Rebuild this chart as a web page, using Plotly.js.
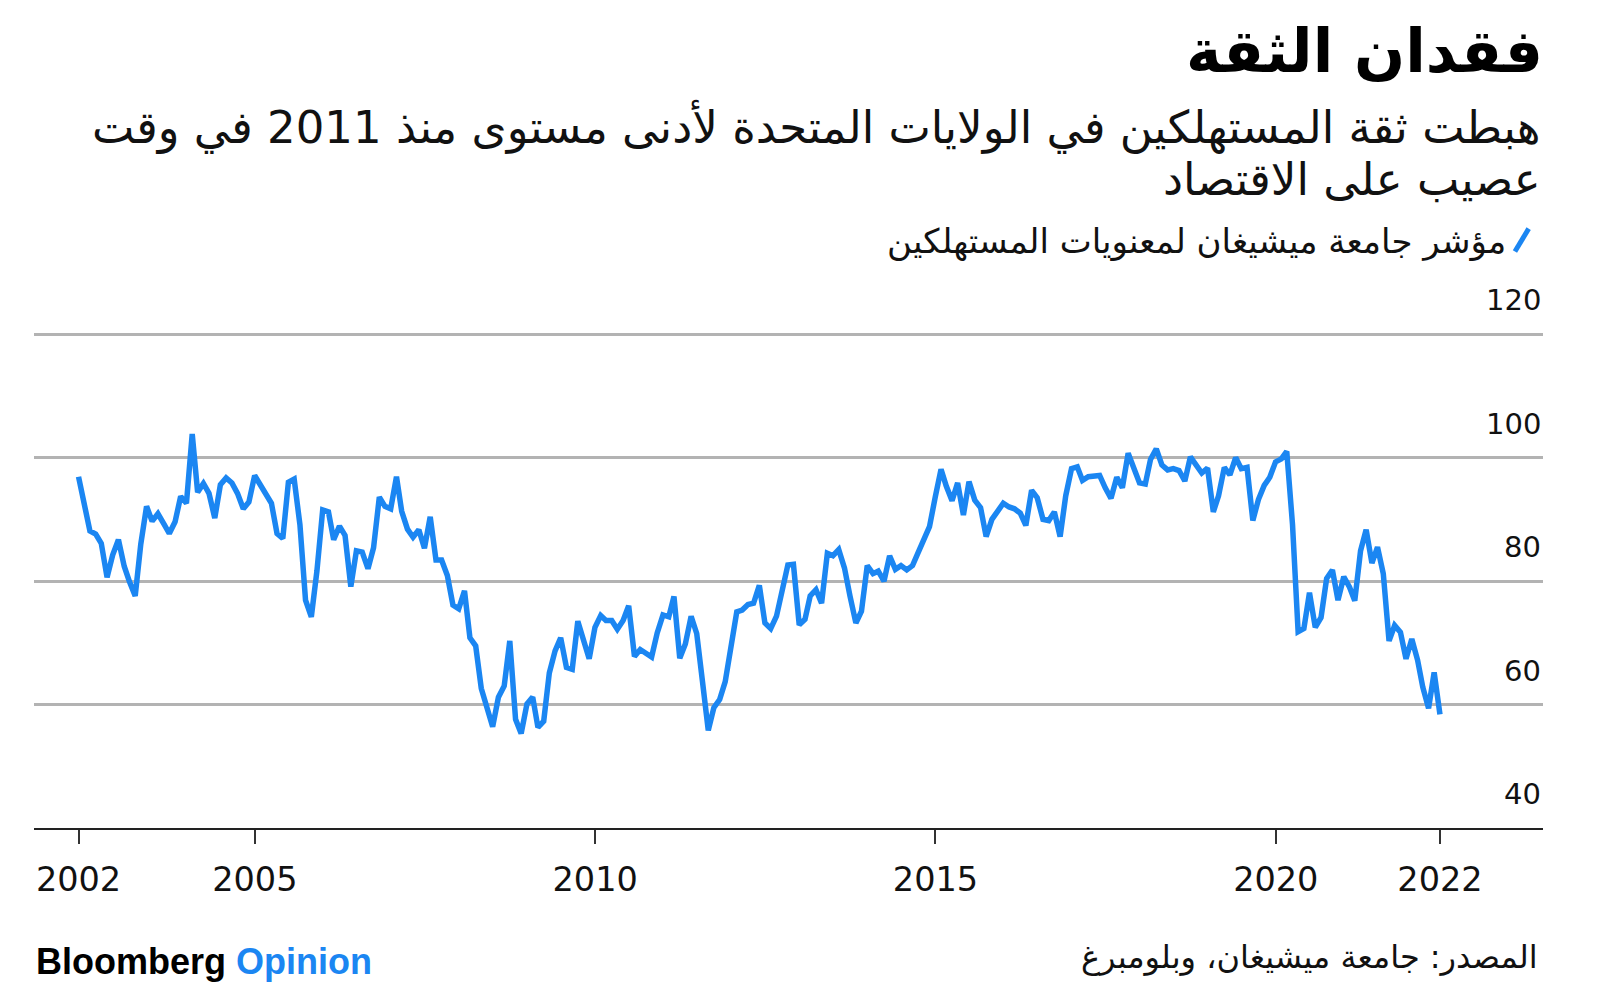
<!DOCTYPE html>
<html>
<head>
<meta charset="utf-8">
<script src="https://cdn.plot.ly/plotly-3.0.1.min.js"></script>
<style>
  html, body { margin: 0; padding: 0; background: #ffffff; }
  #chart { width: 1600px; height: 996px; }
</style>
</head>
<body>
<div id="chart"></div>
<script>
// University of Michigan consumer sentiment, monthly, first value = May 2002 (month-end dates)
const startYear = 2002;
const startMonth = 5;
const sentiment = [
  96.9, 92.4, 88.1, 87.6, 86.1, 80.6, 84.2, 86.7,
  82.4, 79.9, 77.6, 86.0, 92.1, 89.7, 90.9, 89.3, 87.7, 89.6, 93.7, 92.6,
  103.8, 94.4, 95.8, 94.2, 90.2, 95.6, 96.7, 95.9, 94.2, 91.7, 92.8, 97.1,
  95.5, 94.1, 92.6, 87.7, 86.9, 96.0, 96.5, 89.1, 76.9, 74.2, 81.6, 91.5,
  91.2, 86.7, 88.9, 87.4, 79.1, 84.9, 84.7, 82.0, 85.4, 93.6, 92.1, 91.7,
  96.9, 91.3, 88.4, 87.1, 88.3, 85.3, 90.4, 83.4, 83.4, 80.9, 76.1, 75.5,
  78.4, 70.8, 69.5, 62.6, 59.8, 56.4, 61.2, 63.0, 70.3, 57.6, 55.3, 60.1,
  61.2, 56.3, 57.3, 65.1, 68.7, 70.8, 66.0, 65.7, 73.5, 70.6, 67.4, 72.5,
  74.4, 73.6, 73.6, 72.2, 73.6, 76.0, 67.8, 68.9, 68.2, 67.7, 71.6, 74.5,
  74.2, 77.5, 67.5, 69.8, 74.3, 71.5, 63.7, 55.8, 59.5, 60.8, 63.7, 69.9,
  75.0, 75.3, 76.2, 76.4, 79.3, 73.2, 72.3, 74.3, 78.3, 82.6, 82.7, 72.9,
  73.8, 77.6, 78.6, 76.4, 84.5, 84.1, 85.1, 82.1, 77.5, 73.2, 75.1, 82.5,
  81.2, 81.6, 80.0, 84.1, 81.9, 82.5, 81.8, 82.5, 84.6, 86.9, 88.8, 93.6,
  98.1, 95.4, 93.0, 95.9, 90.7, 96.1, 93.1, 91.9, 87.2, 90.0, 91.3, 92.6,
  92.0, 91.7, 91.0, 89.0, 94.7, 93.5, 90.0, 89.8, 91.2, 87.2, 93.8, 98.2,
  98.5, 96.3, 96.9, 97.0, 97.1, 95.1, 93.4, 96.8, 95.1, 100.7, 98.5, 95.9,
  95.7, 99.7, 101.4, 98.8, 98.0, 98.2, 97.9, 96.2, 100.1, 98.6, 97.5, 98.3,
  91.2, 93.8, 98.4, 97.2, 100.0, 98.2, 98.4, 89.8, 93.2, 95.5, 96.8, 99.3,
  99.8, 101.0, 89.1, 71.8, 72.3, 78.1, 72.5, 74.1, 80.4, 81.8, 76.9, 80.7,
  79.0, 76.8, 84.9, 88.3, 82.9, 85.5, 81.2, 70.3, 72.8, 71.7, 67.4, 70.6,
  67.2, 62.8, 59.4, 65.2, 58.4
];

const xTickVals = ['2002-05-31', '2005-01-01', '2010-01-01', '2015-01-01', '2020-01-01', '2022-05-31'];
const xTickText = ['2002', '2005', '2010', '2015', '2020', '2022'];
const yTickVals = [40, 60, 80, 100, 120];
const yTickText = ['40', '60', '80', '100', '120'];

const titleText = 'فقدان الثقة';
const subtitle1 = 'هبطت ثقة المستهلكين في الولايات المتحدة لأدنى مستوى منذ 2011 في وقت';
const subtitle2 = 'عصيب على الاقتصاد';
const seriesName = 'مؤشر جامعة ميشيغان لمعنويات المستهلكين';
const sourceText = 'المصدر: جامعة ميشيغان، وبلومبرغ';

function monthEnd(i) {
  const m0 = startMonth - 1 + i;
  const y = startYear + Math.floor(m0 / 12);
  const m = m0 % 12;
  const d = new Date(Date.UTC(y, m + 1, 0));
  return d.toISOString().slice(0, 10);
}
const dates = sentiment.map((_, i) => monthEnd(i));

const BLUE = '#1b86f2';
const FONT = 'Liberation Sans, Arial, sans-serif';
const NUM = 'DejaVu Sans, Liberation Sans, sans-serif';
const AR = 'DejaVu Sans, Noto Sans, sans-serif';

const trace = {
  type: 'scatter', mode: 'lines',
  x: dates, y: sentiment, name: seriesName,
  line: { color: BLUE, width: 5.5, shape: 'linear' },
  hoverinfo: 'x+y'
};

const annotations = [];
yTickVals.forEach((v, i) => {
  annotations.push({
    xref: 'paper', yref: 'y', x: 1, y: v, xanchor: 'right', yanchor: 'bottom',
    yshift: 15, showarrow: false, text: yTickText[i],
    font: { family: NUM, size: 29, color: '#111' }
  });
});
annotations.push(
  { xref: 'paper', yref: 'paper', x: 1, y: 1.411, xanchor: 'right', yanchor: 'middle', showarrow: false,
    text: subtitle1, font: { family: AR, size: 45, color: '#111' } },
  { xref: 'paper', yref: 'paper', x: 1, y: 1.304, xanchor: 'right', yanchor: 'middle', showarrow: false,
    text: subtitle2, font: { family: AR, size: 45, color: '#111' } },
  { xref: 'paper', yref: 'paper', x: 0.977, y: 1.180, xanchor: 'right', yanchor: 'middle', showarrow: false,
    text: seriesName, font: { family: AR, size: 34, color: '#111' } },
  { xref: 'paper', yref: 'paper', x: 0, y: -0.269, xanchor: 'left', yanchor: 'middle', showarrow: false,
    text: '<b>Bloomberg <span style="color:' + BLUE + '">Opinion</span></b>',
    font: { family: FONT, size: 36, color: '#000' } },
  { xref: 'paper', yref: 'paper', x: 1, y: -0.259, xanchor: 'right', yanchor: 'middle', showarrow: false,
    xshift: -3, text: sourceText, font: { family: AR, size: 32, color: '#111' } }
);

const layout = {
  width: 1600, height: 996,
  paper_bgcolor: '#ffffff', plot_bgcolor: '#ffffff',
  margin: { l: 34, r: 57, t: 331, b: 168, pad: 0 },
  showlegend: false,
  title: {
    text: '<b>' + titleText + '</b>',
    xref: 'paper', x: 1, xanchor: 'right',
    yref: 'container', y: 1 - 51 / 996, yanchor: 'middle',
    font: { family: AR, size: 60, color: '#000' }
  },
  xaxis: {
    type: 'date',
    range: ['2001-10-04', '2023-12-05'],
    tickmode: 'array', tickvals: xTickVals, ticktext: xTickText,
    ticks: 'outside', ticklen: 14, tickwidth: 2, tickcolor: '#333',
    showline: true, linecolor: '#222', linewidth: 2,
    showgrid: false, zeroline: false,
    tickfont: { family: NUM, size: 33.5, color: '#111' },
    ticklabelstandoff: 7,
    fixedrange: true
  },
  yaxis: {
    side: 'right',
    range: [40, 120.5],
    tickmode: 'array', tickvals: yTickVals, ticktext: yTickText,
    showticklabels: false, ticks: '',
    showgrid: true, gridcolor: '#b3b3b3', gridwidth: 3,
    showline: false, zeroline: false,
    fixedrange: true
  },
  shapes: [
    { type: 'line', xref: 'paper', yref: 'paper',
      x0: 0.9814, x1: 0.9905, y0: 1.160, y1: 1.206,
      line: { color: BLUE, width: 5 } }
  ],
  annotations: annotations
};

Plotly.newPlot('chart', [trace], layout, { displayModeBar: false, staticPlot: true });
</script>
</body>
</html>
